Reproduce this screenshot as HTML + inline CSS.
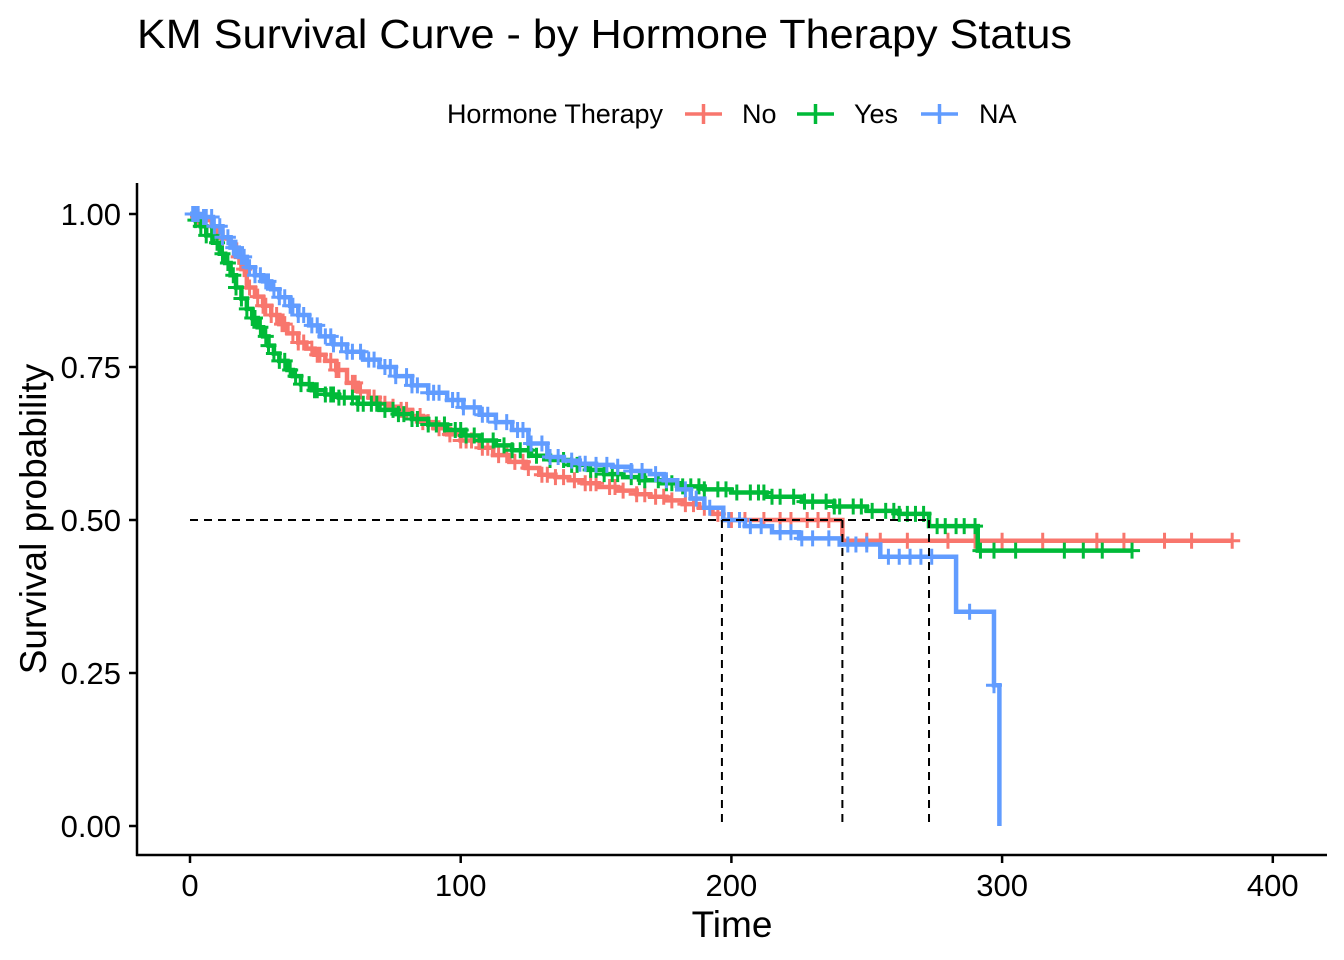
<!DOCTYPE html>
<html><head><meta charset="utf-8"><style>body{margin:0;background:#fff}svg{display:block;font-family:"Liberation Sans",Arial,sans-serif}</style></head>
<body>
<svg id="chart" width="1344" height="960" viewBox="0 0 1344 960">
<rect width="1344" height="960" fill="#fff"/>
<text x="137" y="48" font-size="41" textLength="935" lengthAdjust="spacingAndGlyphs">KM Survival Curve - by Hormone Therapy Status</text>
<g font-size="27">
<text x="447" y="123" textLength="216">Hormone Therapy</text>
<g><line x1="685" y1="114" x2="722" y2="114" stroke="#F8766D" stroke-width="3.5"/><line x1="703.5" y1="104" x2="703.5" y2="124" stroke="#F8766D" stroke-width="3.5"/><text x="742" y="123">No</text></g>
<g><line x1="797" y1="114" x2="834" y2="114" stroke="#00BA38" stroke-width="3.5"/><line x1="815.5" y1="104" x2="815.5" y2="124" stroke="#00BA38" stroke-width="3.5"/><text x="854" y="123">Yes</text></g>
<g><line x1="921" y1="114" x2="958" y2="114" stroke="#619CFF" stroke-width="3.5"/><line x1="939.5" y1="104" x2="939.5" y2="124" stroke="#619CFF" stroke-width="3.5"/><text x="979" y="123">NA</text></g>
</g>
<g id="axes"></g>
<g id="plot"></g>
<text x="732" y="937" font-size="37" text-anchor="middle">Time</text>
<text transform="translate(46,519) rotate(-90)" font-size="37" text-anchor="middle">Survival probability</text>
</svg>
<script>
const xTicks=[0,100,200,300,400];
const yTicks=[0,0.25,0.5,0.75,1];
const yTickLabels=["0.00","0.25","0.50","0.75","1.00"];
const noTimes=[0,3,5,8,10,12,15,17,19,21,24,27,30,33,36,40,43,46,50,54,58,62,66,70,74,77,82,86,90,95,100,107,112,118,124,129,135,140,145,151,158,165,170,176,182,188,193,197,241];
const noSurv=[1,0.995,0.99,0.98,0.97,0.96,0.95,0.93,0.91,0.88,0.865,0.85,0.835,0.82,0.805,0.79,0.78,0.77,0.76,0.745,0.724,0.71,0.70,0.69,0.685,0.68,0.67,0.66,0.65,0.64,0.63,0.618,0.606,0.595,0.585,0.574,0.57,0.565,0.56,0.554,0.548,0.542,0.538,0.532,0.526,0.52,0.51,0.50,0.466];
const yesTimes=[0,2,4,6,8.5,11,13,15,17,19,21,23,25,27,29,31,33,36,38,41,45,50,55,62,70,76,82,88,95,101,107,113,119,126,133,140,147,153,160,167,174,181,190,200,213,226,238,250,262,273,291];
const yesSurv=[1,0.99,0.98,0.965,0.953,0.935,0.92,0.9,0.88,0.862,0.845,0.83,0.815,0.8,0.785,0.772,0.76,0.745,0.735,0.722,0.712,0.705,0.70,0.69,0.68,0.673,0.665,0.656,0.647,0.638,0.63,0.622,0.614,0.605,0.598,0.59,0.582,0.575,0.57,0.565,0.56,0.555,0.55,0.545,0.538,0.53,0.522,0.515,0.51,0.49,0.45];
const naTimes=[0,4,8.5,12,15,18,21,24,27,30,33,37,40,44,48,53,58,64,70,76,82,88,95,101,107,113,119,125,132,138,144,150,156,163,170,175,180,185,190,197,205,215,225,240,255,283,297,299];
const naSurv=[1,0.995,0.98,0.962,0.945,0.93,0.913,0.9,0.89,0.877,0.864,0.85,0.835,0.818,0.80,0.787,0.775,0.762,0.75,0.735,0.72,0.708,0.696,0.684,0.672,0.66,0.647,0.625,0.603,0.597,0.592,0.59,0.587,0.58,0.575,0.565,0.55,0.535,0.52,0.50,0.49,0.48,0.47,0.46,0.44,0.35,0.23,0];
const noCens=[3,8,12,18,20,22,25,27,28,30,32,34,35,38,40,42,45,47,48,52,54,55,60,61,63,68,70,72,75,78,80,85,86,88,92,94,96,100,102,104,108,110,114,117,120,123,125,130,132,135,138,142,146,148,150,155,157,160,165,168,172,175,178,183,186,190,195,200,205,212,218,222,228,232,236,250,255,265,280,290,300,315,335,345,360,370,385];
const yesCens=[2,4,6,8,10,12,14,16,17,19,21,23,24,26,28,29,31,33,35,37,39,41,44,46,47,50,52,53,55,57,60,62,64,67,69,72,75,77,79,82,84,88,91,94,98,100,102,105,108,112,116,119,122,125,128,133,138,141,143,148,150,153,156,158,163,166,168,173,176,178,182,185,188,190,195,198,202,207,210,212,215,218,223,227,230,235,238,240,245,248,252,257,260,262,265,268,271,276,279,283,286,290,292,297,305,323,330,337,348];
const naCens=[1,2,3,5,6,8,9,11,12,14,16,17,19,20,22,24,26,28,29,31,33,35,37,38,40,42,45,47,50,52,53,56,58,60,63,66,68,72,74,76,80,82,84,88,90,92,97,99,101,105,108,110,113,117,121,123,126,130,133,136,141,144,146,150,154,158,163,167,172,176,183,187,192,199,203,207,211,218,222,226,230,236,243,246,250,258,262,266,270,274,288,297];
const ns="http://www.w3.org/2000/svg";
const X=t=>190+2.707*t, Y=s=>826-612*s;
const axes=document.getElementById('axes'), plot=document.getElementById('plot');
function mk(tag,attrs,parent){const e=document.createElementNS(ns,tag);for(const k in attrs)e.setAttribute(k,attrs[k]);parent.appendChild(e);return e;}
let ax=mk('line',{x1:137,y1:183,x2:137,y2:856,stroke:'#000','stroke-width':2.5},axes);


ax=mk('line',{x1:136,y1:855,x2:1327,y2:855,stroke:'#000','stroke-width':2.5},axes);


xTicks.forEach(v=>{const g=mk('g',{},axes);


mk('line',{x1:X(v),y1:855,x2:X(v),y2:863,stroke:'#000','stroke-width':2.5},g);
const t=mk('text',{x:X(v),y:896,'font-size':31,'text-anchor':'middle'},g);t.textContent=v;});
yTicks.forEach((v,i)=>{const g=mk('g',{},axes);


mk('line',{x1:129,y1:Y(v),x2:137,y2:Y(v),stroke:'#000','stroke-width':2.5},g);
const t=mk('text',{x:121,y:Y(v)+11,'font-size':31,'text-anchor':'end'},g);t.textContent=yTickLabels[i];});
function S(ts,ss,t){let v=ss[0];for(let i=0;i<ts.length;i++)if(ts[i]<=t)v=ss[i];return v;}
function draw(name,ts,ss,cens,color,endT){
  const g=mk('g',{},plot);
  
  
  let d='M'+X(ts[0])+','+Y(ss[0]);
  for(let i=1;i<ts.length;i++){d+=' H'+X(ts[i])+' V'+Y(ss[i]);}
  d+=' H'+X(endT);
  const p=mk('path',{d:d,fill:'none',stroke:color,'stroke-width':4.5},g);
  
  
  cens.forEach(c=>{const s=S(ts,ss,c);
    const m=mk('path',{d:`M${X(c)-8},${Y(s)} H${X(c)+8} M${X(c)},${Y(s)-8} V${Y(s)+8}`,stroke:color,'stroke-width':3},g);
    
    });
}
draw('no',noTimes,noSurv,noCens,'#F8766D',385);
draw('yes',yesTimes,yesSurv,yesCens,'#00BA38',348);
draw('na',naTimes,naSurv,naCens,'#619CFF',299);
const medians=[196.5,241,273];
const mg=mk('g',{},plot);


mk('line',{x1:X(0),y1:Y(0.5),x2:X(Math.max(...medians)),y2:Y(0.5),stroke:'#000','stroke-width':2,'stroke-dasharray':'8,6'},mg);
medians.forEach(m=>mk('line',{x1:X(m),y1:Y(0.5),x2:X(m),y2:Y(0),stroke:'#000','stroke-width':2,'stroke-dasharray':'8,6'},mg));
</script>
</body></html>
